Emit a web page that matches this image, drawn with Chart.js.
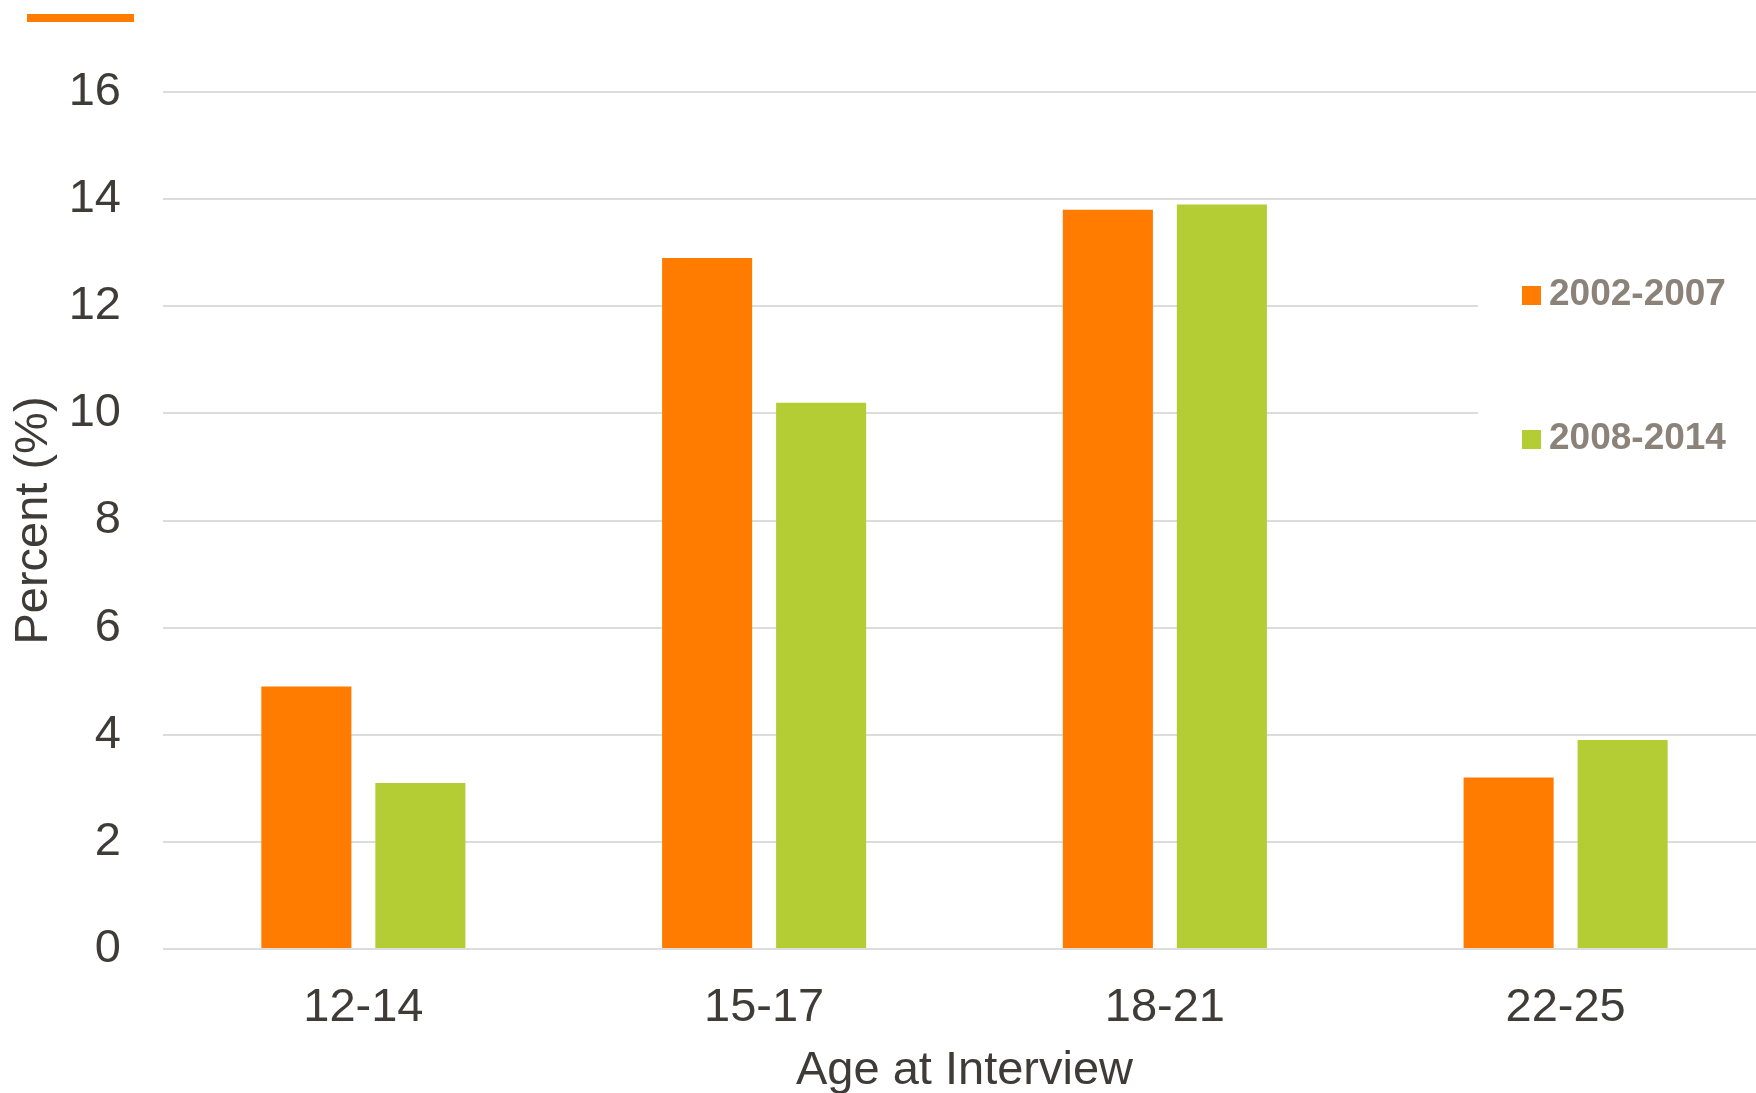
<!DOCTYPE html>
<html lang="en">

<head>
    <meta charset="UTF-8">
    <title>Percent by Age at Interview</title>
    <script src="https://cdn.jsdelivr.net/npm/chart.js"></script>
    <style>
        html, body { margin: 0; padding: 0; background: #fff; overflow: hidden; }
        /* the plot runs a little past the right and bottom edges, so clip it */
        .frame { width: 1756px; height: 1093px; overflow: hidden; position: relative; }
        .box { width: 1780px; height: 1100px; position: absolute; left: 0; top: 0; }
    </style>
</head>

<body>
    <div class="frame">
        <div class="box">
            <canvas id="ageChart"></canvas>
        </div>
    </div>

    <script>
        // age groups and percent per survey period
        const ageGroups = ['12-14', '15-17', '18-21', '22-25'];
        const periods = ['2002-2007', '2008-2014'];
        const pct2002to2007 = [4.9, 12.9, 13.8, 3.2];
        const pct2008to2014 = [3.1, 10.2, 13.9, 3.9];

        const ORANGE = '#ff7c00';
        const GREEN = '#b4cd35';
        const FONT = "'Liberation Sans', Arial, sans-serif";
        const TEXT = '#3f3b37';

        // short orange rule at the top left + legend on a white patch
        const decorations = {
            id: 'decorations',
            afterDraw(chart) {
                const ctx = chart.ctx;
                ctx.save();
                ctx.fillStyle = ORANGE;
                ctx.fillRect(27, 14, 107, 8);

                ctx.fillStyle = '#ffffff';
                ctx.fillRect(1478, 225, chart.width - 1478, 275);

                ctx.font = 'bold 37px ' + FONT;
                ctx.textBaseline = 'middle';
                chart.data.datasets.forEach((ds, i) => {
                    const y = 295 + i * 144;
                    ctx.fillStyle = ds.backgroundColor;
                    ctx.fillRect(1522, y - 9, 19, 19);
                    ctx.fillStyle = '#8b8279';
                    ctx.fillText(ds.label, 1549, y);
                });
                ctx.restore();
            }
        };

        const ctx = document.getElementById('ageChart').getContext('2d');
        new Chart(ctx, {
            type: 'bar',
            data: {
                labels: ageGroups,
                datasets: [{
                    label: periods[0],
                    data: pct2002to2007,
                    backgroundColor: ORANGE,
                    categoryPercentage: 0.569,
                    barPercentage: 0.79
                }, {
                    label: periods[1],
                    data: pct2008to2014,
                    backgroundColor: GREEN,
                    categoryPercentage: 0.569,
                    barPercentage: 0.79
                }]
            },
            options: {
                responsive: true,
                maintainAspectRatio: false,
                animation: false,
                layout: { padding: { top: 92, right: 14, left: 0, bottom: 0 } },
                plugins: {
                    legend: { display: false },
                    tooltip: { enabled: false }
                },
                scales: {
                    x: {
                        grid: { display: false },
                        border: { display: false },
                        ticks: {
                            color: TEXT,
                            padding: 23,
                            font: { family: FONT, size: 47 }
                        },
                        title: {
                            display: true,
                            text: 'Age at Interview',
                            color: TEXT,
                            padding: { top: 0, bottom: 1 },
                            font: { family: FONT, size: 47 }
                        },
                        afterFit(scale) { scale.height = 151; }
                    },
                    y: {
                        min: 0,
                        max: 16,
                        grid: { color: '#dcdcdc', lineWidth: 2, drawTicks: false },
                        border: { display: false },
                        ticks: {
                            stepSize: 2,
                            color: TEXT,
                            padding: 42,
                            font: { family: FONT, size: 47 }
                        },
                        title: {
                            display: true,
                            text: 'Percent (%)',
                            color: TEXT,
                            padding: { top: 6, bottom: 0 },
                            font: { family: FONT, size: 47 }
                        },
                        afterFit(scale) { scale.width = 163; }
                    }
                }
            },
            plugins: [decorations]
        });
    </script>

</body>

</html>
